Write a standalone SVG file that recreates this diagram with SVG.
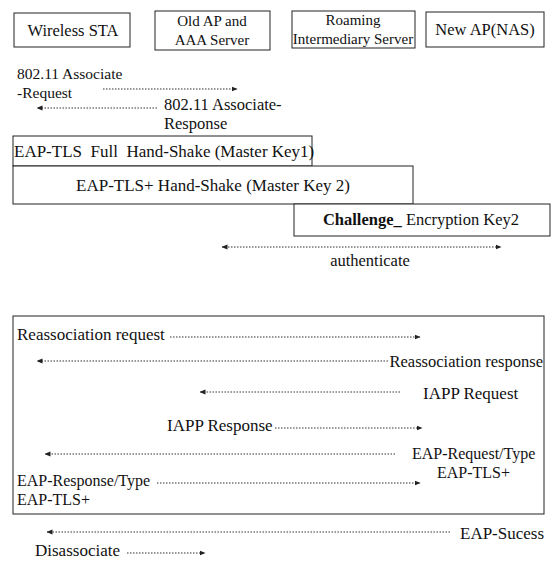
<svg xmlns="http://www.w3.org/2000/svg" width="553" height="563" viewBox="0 0 553 563">
  <style>
    .box { fill: #fff; stroke: #222; stroke-width: 1; }
    .t17 { font-size: 17px; }
    .t16 { font-size: 16.5px; }
    .t15 { font-size: 15px; }
    .mid { text-anchor: middle; }
    .end { text-anchor: end; }
    .msg { fill: none; stroke: #333; stroke-width: 1; stroke-dasharray: 1.5 1.5; }
  </style>
  <defs>
    <marker id="head" viewBox="0 0 6 6" refX="5.5" refY="3" markerWidth="6" markerHeight="6" markerUnits="userSpaceOnUse" orient="auto-start-reverse">
      <path d="M0,0.5 L6,3 L0,5.5 Z" fill="#222"/>
    </marker>
  </defs>
  <rect width="553" height="563" fill="#fff"/>

  <g font-family="'Liberation Serif', serif" fill="#111">
  <!-- participants -->
  <g id="wireless-sta">
    <rect class="box" x="14" y="13" width="116" height="34"/>
    <text class="t16 mid" x="73" y="36">Wireless STA</text>
  </g>
  <g id="old-ap">
    <rect class="box" x="155" y="11" width="115" height="39"/>
    <text class="t15 mid" x="212" y="26">Old AP and</text>
    <text class="t15 mid" x="212" y="45">AAA Server</text>
  </g>
  <g id="roaming-server">
    <rect class="box" x="292" y="11" width="123" height="37"/>
    <text class="t15 mid" x="353" y="25">Roaming</text>
    <text class="t15 mid" x="353" y="44">Intermediary Server</text>
  </g>
  <g id="new-ap">
    <rect class="box" x="426" y="12" width="118" height="35"/>
    <text class="t16 mid" x="485" y="35">New AP(NAS)</text>
  </g>

  <!-- association messages -->
  <g id="associate-request">
    <text x="17" y="79" font-size="15.5">802.11 Associate</text>
    <text x="17" y="98" font-size="15.5">-Request</text>
  </g>
  <g id="associate-response">
    <text class="t16" x="164" y="110">802.11 Associate-</text>
    <text class="t16" x="164" y="129">Response</text>
  </g>

  <!-- handshake phases -->
  <g id="full-handshake">
    <rect class="box" x="13" y="136" width="299" height="30"/>
    <text class="t17" x="14" y="157" xml:space="preserve">EAP-TLS  Full  Hand-Shake (Master Key1)</text>
  </g>
  <g id="plus-handshake">
    <rect class="box" x="13" y="166" width="400" height="38"/>
    <text class="t17 mid" x="213" y="191">EAP-TLS+ Hand-Shake (Master Key 2)</text>
  </g>
  <g id="challenge">
    <rect class="box" x="294" y="204" width="256" height="32"/>
    <text class="t16 mid" x="421" y="225"><tspan font-weight="bold">Challenge_</tspan> Encryption Key2</text>
  </g>
  <g id="authenticate">
    <text class="t16 mid" x="370" y="266">authenticate</text>
  </g>

  <!-- reassociation phase -->
  <g id="reassociation">
    <rect class="box" x="13" y="316" width="531" height="198"/>
    <text class="t17" x="17" y="340">Reassociation request</text>
    <text class="t16 end" x="543" y="367">Reassociation response</text>
    <text class="t17" x="423" y="399">IAPP Request</text>
    <text class="t17" x="167" y="431">IAPP Response</text>
    <text x="412" y="459" font-size="16">EAP-Request/Type</text>
    <text x="437" y="478" font-size="16">EAP-TLS+</text>
    <text x="17" y="486" font-size="16">EAP-Response/Type</text>
    <text x="17" y="505" font-size="16">EAP-TLS+</text>
  </g>
  <g id="eap-success">
    <text class="t17" x="460" y="539">EAP-Sucess</text>
  </g>
  <g id="disassociate">
    <text class="t17" x="35" y="556">Disassociate</text>
  </g>
  </g>

  <!-- connectors -->
  <g id="connectors">
    <line class="msg" x1="103" y1="89" x2="237" y2="89" marker-end="url(#head)"/>
    <line class="msg" x1="157" y1="108" x2="37" y2="108" marker-end="url(#head)"/>
    <line class="msg" x1="222" y1="247" x2="501" y2="247" marker-start="url(#head)" marker-end="url(#head)"/>
    <line class="msg" x1="170" y1="337" x2="420" y2="337" marker-end="url(#head)"/>
    <line class="msg" x1="388" y1="361" x2="37" y2="361" marker-end="url(#head)"/>
    <line class="msg" x1="400" y1="392" x2="200" y2="392" marker-end="url(#head)"/>
    <line class="msg" x1="275" y1="428" x2="422" y2="428" marker-end="url(#head)"/>
    <line class="msg" x1="395" y1="454" x2="45" y2="454" marker-end="url(#head)"/>
    <line class="msg" x1="157" y1="483" x2="420" y2="483" marker-end="url(#head)"/>
    <line class="msg" x1="450" y1="532" x2="47" y2="532" marker-end="url(#head)"/>
    <line class="msg" x1="127" y1="553" x2="205" y2="553" marker-end="url(#head)"/>
  </g>
</svg>
